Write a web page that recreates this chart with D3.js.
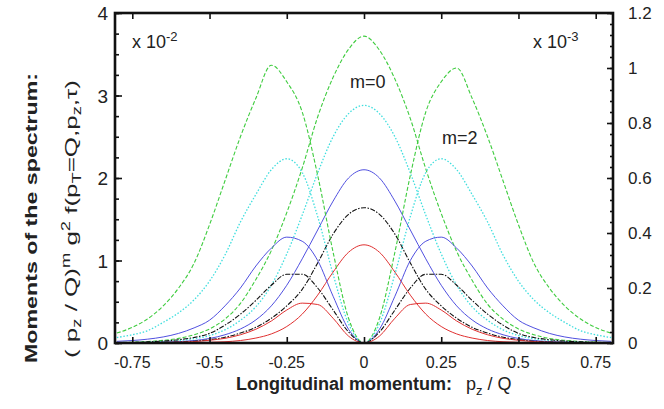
<!DOCTYPE html>
<html><head><meta charset="utf-8">
<script src="https://cdn.jsdelivr.net/npm/d3@7"></script>
<style>
html,body{margin:0;padding:0;background:#fff;}
svg text{font-family:"Liberation Sans",Arial,sans-serif;fill:#222;}
</style></head>
<body><svg id="c" width="664" height="409"></svg>
<script>
// longitudinal momentum p_z/Q sample points
const pz = d3.range(33).map(i => +(-0.8 + i * 0.05).toFixed(2));
const xTicks = [-0.75, -0.5, -0.25, 0, 0.25, 0.5, 0.75];
const xTickLabels = ["-0.75", "-0.5", "-0.25", "0", "0.25", "0.5", "0.75"];
const yLeftTicks = [0, 1, 2, 3, 4];
const yRightTicks = [0, 0.2, 0.4, 0.6, 0.8, 1, 1.2];

// m=0 moments (left axis, x 10^-2)
const greenM0 = [0.006,0.010,0.018,0.032,0.056,0.10,0.17,0.29,0.48,0.77,1.12,1.58,2.12,2.74,3.22,3.56,3.72,3.55,3.20,2.72,2.11,1.57,1.11,0.76,0.47,0.29,0.17,0.10,0.055,0.032,0.018,0.010,0.006];
const cyanM0  = [0.003,0.005,0.009,0.018,0.031,0.052,0.09,0.16,0.275,0.44,0.70,1.08,1.55,2.06,2.50,2.78,2.88,2.78,2.50,2.06,1.55,1.08,0.70,0.44,0.275,0.16,0.09,0.052,0.031,0.018,0.009,0.005,0.003];
const blueM0  = [0.002,0.003,0.006,0.010,0.017,0.03,0.055,0.10,0.17,0.28,0.45,0.70,1.02,1.37,1.72,2.00,2.10,2.00,1.72,1.37,1.02,0.70,0.45,0.28,0.17,0.10,0.055,0.03,0.017,0.010,0.006,0.003,0.002];
const blackM0 = [0.001,0.002,0.004,0.007,0.012,0.022,0.04,0.07,0.12,0.19,0.30,0.45,0.65,0.97,1.32,1.56,1.64,1.56,1.32,0.97,0.65,0.45,0.30,0.19,0.12,0.07,0.04,0.022,0.012,0.007,0.004,0.002,0.001];
const redM0   = [0,0,0.001,0.001,0.002,0.004,0.008,0.015,0.03,0.06,0.11,0.20,0.35,0.58,0.86,1.10,1.19,1.10,0.86,0.58,0.35,0.20,0.11,0.06,0.03,0.015,0.008,0.004,0.002,0.001,0.001,0,0];

// m=2 moments (right axis, x 10^-3)
const greenM2 = [0.036,0.057,0.088,0.135,0.20,0.29,0.43,0.59,0.75,0.89,1.01,0.95,0.84,0.61,0.33,0.09,0,0.09,0.33,0.61,0.84,0.95,1.0,0.89,0.75,0.59,0.43,0.29,0.20,0.135,0.088,0.056,0.036];
const cyanM2  = [0.02,0.03,0.045,0.075,0.11,0.157,0.225,0.32,0.44,0.54,0.63,0.67,0.62,0.46,0.25,0.07,0,0.07,0.25,0.46,0.62,0.67,0.63,0.54,0.44,0.32,0.225,0.157,0.11,0.075,0.045,0.03,0.02];
const blueM2  = [0.006,0.009,0.014,0.022,0.035,0.055,0.083,0.135,0.20,0.28,0.345,0.385,0.37,0.30,0.17,0.05,0,0.05,0.17,0.30,0.37,0.385,0.345,0.28,0.20,0.135,0.083,0.055,0.035,0.022,0.014,0.009,0.006];
const blackM2 = [0.001,0.002,0.004,0.007,0.012,0.02,0.035,0.065,0.105,0.155,0.21,0.25,0.25,0.20,0.12,0.04,0,0.04,0.12,0.20,0.25,0.25,0.21,0.155,0.105,0.065,0.035,0.02,0.012,0.007,0.004,0.002,0.001];
const redM2   = [0,0.001,0.001,0.002,0.003,0.005,0.01,0.017,0.03,0.05,0.08,0.12,0.145,0.14,0.09,0.025,0,0.025,0.09,0.14,0.145,0.12,0.08,0.05,0.03,0.017,0.01,0.005,0.003,0.002,0.001,0.001,0];

const seriesDefs = [
  {v: greenM0, axis: "L", color: "#3fcc3f", dash: "4,2", w: 1.1},
  {v: cyanM0,  axis: "L", color: "#3fdede", dash: "1.5,1.8", w: 1.3},
  {v: blueM0,  axis: "L", color: "#5050e0", dash: null, w: 1},
  {v: blackM0, axis: "L", color: "#111111", dash: "5,1.5,1.5,1.5", w: 1.1},
  {v: redM0,   axis: "L", color: "#e03030", dash: null, w: 1},
  {v: greenM2, axis: "R", color: "#3fcc3f", dash: "4,2", w: 1.1},
  {v: cyanM2,  axis: "R", color: "#3fdede", dash: "1.5,1.8", w: 1.3},
  {v: blueM2,  axis: "R", color: "#5050e0", dash: null, w: 1},
  {v: blackM2, axis: "R", color: "#111111", dash: "5,1.5,1.5,1.5", w: 1.1},
  {v: redM2,   axis: "R", color: "#e03030", dash: null, w: 1}
];

const L = 115, R = 613, T = 13, B = 343;
const x = d3.scaleLinear().domain([-0.806, 0.806]).range([L, R]);
const yL = d3.scaleLinear().domain([0, 4]).range([B, T]);
const yR = d3.scaleLinear().domain([0, 1.2]).range([B, T]);

const svg = d3.select("#c");
const plot = svg.append("g");
plot.append("clipPath").attr("id","clip").append("rect").attr("x",L).attr("y",T).attr("width",R-L).attr("height",B-T);

const curves = plot.append("g").attr("clip-path","url(#clip)");
seriesDefs.forEach(s => {
  const y = s.axis === "L" ? yL : yR;
  const line = d3.line().x((d,i) => x(pz[i])).y(d => y(d)).curve(d3.curveMonotoneX);
  curves.append("path").datum(s.v).attr("d", line)
    .attr("fill","none").attr("stroke", s.color).attr("stroke-width", s.w)
    .attr("stroke-dasharray", s.dash);
});

// axes (ticks pointing inward)
const gB = svg.append("g").attr("transform",`translate(0,${B})`)
  .call(d3.axisTop(x).tickValues(xTicks).tickSize(6).tickFormat(""));
const gT = svg.append("g").attr("transform",`translate(0,${T})`)
  .call(d3.axisBottom(x).tickValues(xTicks).tickSize(6).tickFormat(""));
const gLminor = svg.append("g").attr("transform",`translate(${L},0)`)
  .call(d3.axisRight(yL).tickValues(d3.range(0, 4.001, 0.25)).tickSize(4).tickFormat(""));
const gLmajor = svg.append("g").attr("transform",`translate(${L},0)`)
  .call(d3.axisRight(yL).tickValues(yLeftTicks).tickSize(7).tickFormat(""));
const gRminor = svg.append("g").attr("transform",`translate(${R},0)`)
  .call(d3.axisLeft(yR).tickValues(d3.range(0, 1.2001, 0.04)).tickSize(3).tickFormat(""));
const gRmajor = svg.append("g").attr("transform",`translate(${R},0)`)
  .call(d3.axisLeft(yR).tickValues(yRightTicks).tickSize(6).tickFormat(""));
[gB,gT,gLminor,gLmajor,gRminor,gRmajor].forEach(g => {
  g.select(".domain").remove();
  g.selectAll("line").attr("stroke","#111").attr("stroke-width",1.6);
});

svg.append("rect").attr("x",L).attr("y",T).attr("width",R-L).attr("height",B-T)
  .attr("fill","none").attr("stroke","#111").attr("stroke-width",2.6);

// tick labels
svg.append("g").selectAll("text").data(xTicks).join("text")
  .attr("x", d => x(d)).attr("y", 368).attr("text-anchor","middle")
  .style("font-size","16px").text((d,i) => xTickLabels[i]);
svg.append("g").selectAll("text").data(yLeftTicks).join("text")
  .attr("x", 108).attr("y", d => yL(d) + 7).attr("text-anchor","end")
  .style("font-size","19px").text(d => d3.format("")(d));
svg.append("g").selectAll("text").data(yRightTicks).join("text")
  .attr("x", 628).attr("y", d => yR(d) + 6).attr("text-anchor","start")
  .style("font-size","17px").text(d => d3.format("")(d));

// scale annotations
function sciLabel(xp, yp, exp) {
  const t = svg.append("text").attr("x", xp).attr("y", yp).style("font-size","18px");
  t.append("tspan").text("x 10");
  t.append("tspan").attr("dy", -7).style("font-size","13px").text(exp);
}
sciLabel(132, 48, "-2");
sciLabel(533, 48, "-3");
svg.append("text").attr("x",350).attr("y",88).style("font-size","18px").text("m=0");
svg.append("text").attr("x",442).attr("y",144).style("font-size","18px").text("m=2");

// axis titles
const xt = svg.append("text").attr("x", 236).attr("y", 390).style("font-size","18px");
xt.append("tspan").style("font-weight","bold").text("Longitudinal momentum:");
xt.append("tspan").attr("dx", 14).text("p");
xt.append("tspan").attr("dy", 5).style("font-size","13px").text("z");
xt.append("tspan").attr("dy", -5).text(" / Q");

svg.append("text").attr("transform","translate(37,218) rotate(-90)")
  .attr("text-anchor","middle").style("font-size","17px").style("font-weight","bold")
  .attr("textLength", 290).attr("lengthAdjust","spacingAndGlyphs")
  .text("Moments of the spectrum:");
const yt = svg.append("text").attr("transform","translate(77,219) rotate(-90)")
  .attr("text-anchor","middle").style("font-size","17px")
  .attr("textLength", 278).attr("lengthAdjust","spacingAndGlyphs");
yt.append("tspan").text("( p");
yt.append("tspan").attr("dy",4).style("font-size","12px").text("z");
yt.append("tspan").attr("dy",-4).text(" / Q)");
yt.append("tspan").attr("dy",-7).style("font-size","12px").text("m");
yt.append("tspan").attr("dy",7).text("  g");
yt.append("tspan").attr("dy",-7).style("font-size","12px").text("2");
yt.append("tspan").attr("dy",7).text(" f(p");
yt.append("tspan").attr("dy",4).style("font-size","12px").text("T");
yt.append("tspan").attr("dy",-4).text("=Q,p");
yt.append("tspan").attr("dy",4).style("font-size","12px").text("z");
yt.append("tspan").attr("dy",-4).text(",τ)");
</script></body></html>
